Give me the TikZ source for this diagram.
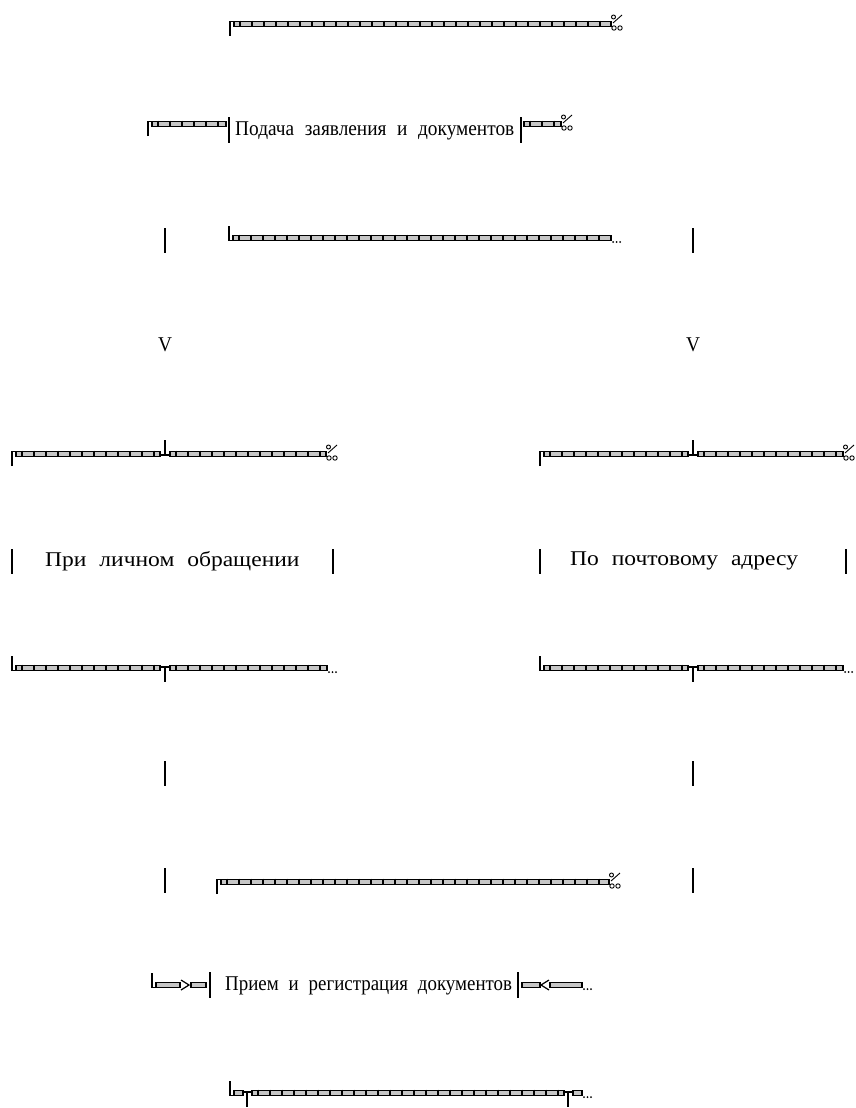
\documentclass[tikz,border=0pt]{standalone}
\usepackage{fontspec}
\usetikzlibrary{positioning}
\newfontfamily\pgfont[FakeStretch=0.92, WordSpace=2.2]{Liberation Serif}
\newfontfamily\pgwide[FakeStretch=1.12, WordSpace=2.2]{Liberation Serif}
\newfontfamily\pgnarrow[FakeStretch=0.9, WordSpace=2.1]{Liberation Serif}

\tikzset{
  pgline/.style={line width=1.2pt},
  pgtick/.style={line width=1.3pt},
  pgbar/.style={line width=1.5pt},
  pgtext/.style={font=\pgfont\fontsize{21}{24}\selectfont, inner sep=0pt, anchor=west},
  pgwidetext/.style={font=\pgwide\fontsize{21}{24}\selectfont, inner sep=0pt, anchor=west},
}
% double rule with ticks: x from, x to, y
\newcommand{\dblrule}[3]{%
  \draw[pgline, fill=gray!45] (#1,#3-2.3) rectangle (#2,#3+2.3);
  \pgfmathsetmacro{\ta}{#1+6}\pgfmathsetmacro{\tb}{#1+18}\pgfmathsetmacro{\tc}{#2-4}
  \foreach \tx in {\ta,\tb,...,\tc} {\draw[pgtick] (\tx,#3-3.3) -- (\tx,#3+3.3);}
}
\newcommand{\dblshort}[3]{\draw[pgline, fill=gray!45] (#1,#3-2.3) rectangle (#2,#3+2.3);}
% corners and tees
\newcommand{\cornerdn}[2]{\draw[pgline] (#1,#2+12) -- (#1,#2-2.3) -- (#1+4,#2-2.3);}
\newcommand{\cornerup}[2]{\draw[pgline] (#1,#2-12) -- (#1,#2+2.3) -- (#1+4,#2+2.3);}
\newcommand{\teeup}[2]{\draw[pgline] (#1,#2-14) -- (#1,#2+1) (#1-5,#2+1) -- (#1+5,#2+1);}
\newcommand{\teedn}[2]{\draw[pgline] (#1,#2-1) -- (#1,#2+14) (#1-5,#2-1) -- (#1+5,#2-1);}
% line ends
\newcommand{\permille}[2]{%
  \draw[line width=0.9pt] (#1+2.5,#2-7) circle (2pt) (#1+3,#2+4) circle (2.2pt)
    (#1+9,#2+4) circle (2.2pt) (#1+2,#2-1) -- (#1+11,#2-9);}
\newcommand{\ellip}[2]{\foreach \dx in {2,5.5,9} {\fill (#1+\dx,#2+4) circle (1pt);}}
\newcommand{\vbar}[3]{\draw[pgbar] (#1,#2) -- (#1,#3);}

\begin{document}
\begin{tikzpicture}[x=1pt, y=-1pt]
  \useasboundingbox[fill=white] (0,0) rectangle (855,1108);
  % row 1: top rule
  \cornerdn{230}{24}
  \dblrule{234}{611}{24}
  \permille{611}{24}
  % row 2: application
  \cornerdn{148}{124}
  \dblrule{152}{226}{124}
  \vbar{229}{117}{143}
  \node[pgtext] (apply) at (235,131) {Подача заявления и документов};
  \vbar{521}{117}{143}
  \dblrule{524}{561}{124}
  \permille{561}{124}
  % row 3
  \vbar{165}{228}{253}
  \cornerup{229}{238}
  \dblrule{233}{611}{238}
  \ellip{611}{238}
  \vbar{693}{228}{253}
  % row 4: arrow heads
  \node[pgtext, anchor=center] (vleft) at (165,345) {V};
  \node[pgtext, anchor=center] (vright) at (693,345) {V};
  % row 5: box tops
  \cornerdn{12}{454}
  \dblrule{16}{160}{454}
  \teeup{165}{454}
  \dblrule{170}{326}{454}
  \permille{326}{454}
  \cornerdn{540}{454}
  \dblrule{544}{688}{454}
  \teeup{693}{454}
  \dblrule{698}{843}{454}
  \permille{843}{454}
  % row 6: two ways
  \vbar{12}{549}{574}
  \node[pgwidetext] (personal) at (45,561) {При личном обращении};
  \vbar{333}{549}{574}
  \vbar{540}{549}{574}
  \node[pgwidetext] (post) at (570,561) {По почтовому адресу};
  \vbar{846}{549}{574}
  % row 7: box bottoms
  \cornerup{12}{668}
  \dblrule{16}{160}{668}
  \teedn{165}{668}
  \dblrule{170}{327}{668}
  \ellip{327}{668}
  \cornerup{540}{668}
  \dblrule{544}{688}{668}
  \teedn{693}{668}
  \dblrule{698}{843}{668}
  \ellip{843}{668}
  % row 8
  \vbar{165}{761}{786}
  \vbar{693}{761}{786}
  % row 9
  \vbar{165}{868}{893}
  \cornerdn{217}{882}
  \dblrule{221}{609}{882}
  \permille{609}{882}
  \vbar{693}{868}{893}
  % row 10: registration
  \cornerup{152}{985}
  \dblshort{156}{180}{985}
  \draw[pgline] (181,980) -- (189,985) -- (181,990);
  \dblshort{191}{206}{985}
  \vbar{210}{972}{998}
  \node[pgtext, font=\pgnarrow\fontsize{21}{24}\selectfont] (register) at (225,986) {Прием и регистрация документов};
  \vbar{518}{972}{998}
  \dblshort{522}{540}{985}
  \draw[pgline] (549,980) -- (541,985) -- (549,990);
  \dblshort{550}{582}{985}
  \ellip{582}{985}
  % row 11
  \cornerup{230}{1093}
  \dblshort{234}{243}{1093}
  \teedn{247}{1093}
  \dblrule{252}{564}{1093}
  \teedn{568}{1093}
  \dblshort{573}{582}{1093}
  \ellip{582}{1093}
\end{tikzpicture}
\end{document}
